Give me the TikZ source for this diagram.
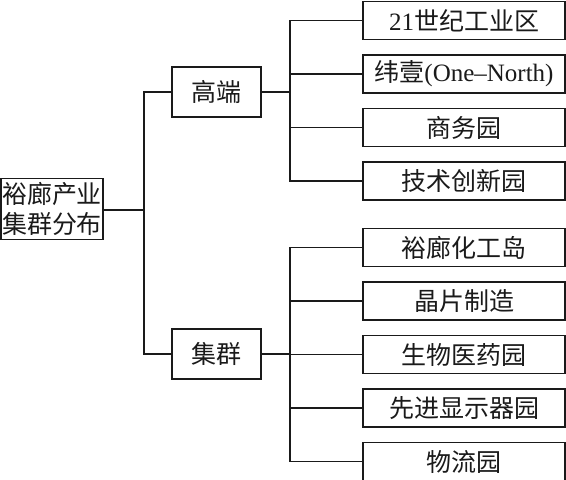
\documentclass[tikz,border=0pt]{standalone}
\usepackage{fontspec}
\setmainfont{Noto Sans CJK SC}
\newfontfamily\latn{Liberation Serif}
\usepackage{tikz}
\usetikzlibrary{positioning,calc}
\definecolor{linec}{HTML}{1A1A1A}
\tikzset{
  box/.style={draw=linec,line width=1.8pt,fill=white,inner sep=0pt,font=\fontsize{25}{29}\selectfont,text=linec},
  rootbox/.style={box,minimum width=102pt,minimum height=61pt,align=center,font=\fontsize{25}{30}\selectfont},
  midbox/.style={box,minimum width=89pt,minimum height=50pt},
  leafbox/.style={box,minimum width=202pt,minimum height=38pt},
  conn/.style={draw=linec,line width=1.8pt},
}

\begin{document}
\begin{tikzpicture}[x=1pt,y=-1pt]
  \useasboundingbox (0,0) rectangle (566,480);
  % 根与二级
  \node[rootbox] (root) at (52,209) {裕廊产业\\集群分布};
  \node[midbox] (hi) at (216.5,92) {高端};
  \node[midbox] (cl) at (216.5,354) {集群};
  % 三级
  \foreach \i/\t in {0/{{\latn 21}世纪工业区},1/{纬壹{\latn(One–North)}},2/{商务园},3/{技术创新园}} {
    \node[leafbox] (a\i) at (464,20.5+53.5*\i) {\t};
  }
  \foreach \i/\t in {0/{裕廊化工岛},1/{晶片制造},2/{生物医药园},3/{先进显示器园},4/{物流园}} {
    \node[leafbox] (b\i) at (464,247.5+53.5*\i) {\t};
  }
  % 连线
  \coordinate (t) at (144,210);
  \draw[conn] (root.east|-t) -- (t) |- (hi.west);
  \draw[conn] (t) |- (cl.west);
  \draw[conn] (hi.east) -- ++(28,0) coordinate (ha);
  \draw[conn] (cl.east) -- ++(28,0) coordinate (ca);
  \foreach \i in {0,...,3} \draw[conn] (ha) |- (a\i.west);
  \foreach \i in {0,...,4} \draw[conn] (ca) |- (b\i.west);
\end{tikzpicture}
\end{document}
